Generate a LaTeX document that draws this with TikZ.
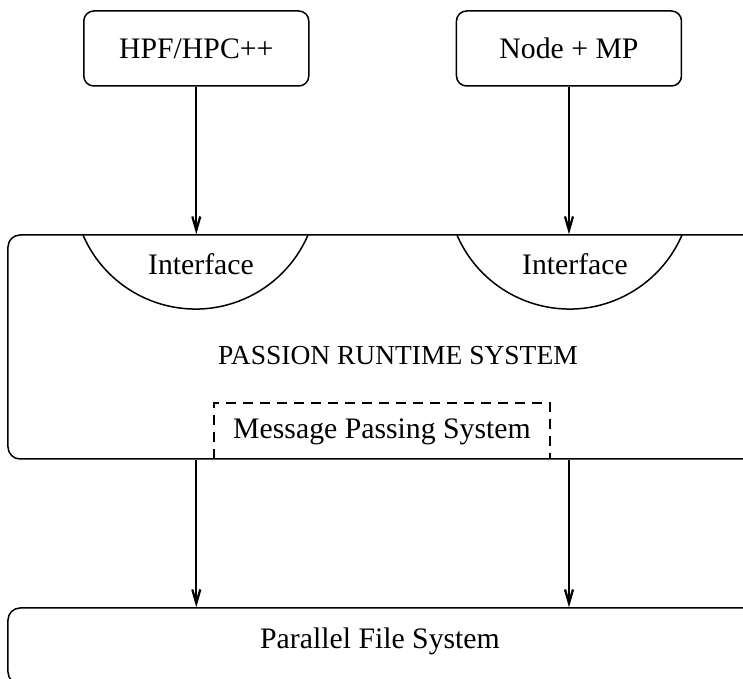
\documentclass[tikz,border=0pt]{standalone}
\usepackage{fontspec}
\setmainfont{Liberation Serif}
\usetikzlibrary{arrows.meta}
\begin{document}
\begin{tikzpicture}[x=0.4pt,y=-0.4pt,
  line width=0.6pt,
  every node/.style={font=\fontsize{11.9}{14}\selectfont, inner sep=0pt},
  topbox/.style={draw, rounded corners=4pt, minimum width=90pt, minimum height=30pt},
  wide/.style={draw, rounded corners=4.8pt},
  conn/.style={line width=0.75pt, -{Straight Barb[length=5.5pt,width=3.2pt,line width=0.9pt]}},
  txt/.style={}]
\useasboundingbox (0,0) rectangle (743,679);
\clip (0,0) rectangle (743,679);
% top boxes
\node[topbox] (hpf) at (196.3,48.5) {HPF/HPC++};
\node[topbox] (nmp) at (569,48.5) {Node + MP};
% runtime system box
\node[wide, minimum width=300.8pt, minimum height=89.6pt] (sys) at (384,347) {};
\node[txt, font=\fontsize{11}{13}\selectfont] (passion) at (398,356) {PASSION RUNTIME SYSTEM};
% interface arcs
\draw (83,235) arc[start angle=-156.7, end angle=-23.3, radius=49pt];
\draw (457,235) arc[start angle=-156.7, end angle=-23.3, radius=49pt];
\node[txt] (if1) at (201,264) {Interface};
\node[txt] (if2) at (575,264) {Interface};
% message passing system
\draw[dashed, dash pattern=on 4pt off 2.8pt] (214,459) -- (214,403) -- (550,403) -- (550,459);
\node[txt] (mps) at (382,432) {Message Passing System};
% parallel file system box
\node[wide, minimum width=300.8pt, minimum height=30.4pt] (pfs) at (384,646) {};
\node[txt] (pfstxt) at (380,641) {Parallel File System};
% connectors
\draw[conn] (hpf.south) -- (hpf.south |- sys.north);
\draw[conn] (nmp.south) -- (nmp.south |- sys.north);
\draw[conn] (hpf.south |- sys.south) -- (hpf.south |- pfs.north);
\draw[conn] (nmp.south |- sys.south) -- (nmp.south |- pfs.north);
\end{tikzpicture}
\end{document}
